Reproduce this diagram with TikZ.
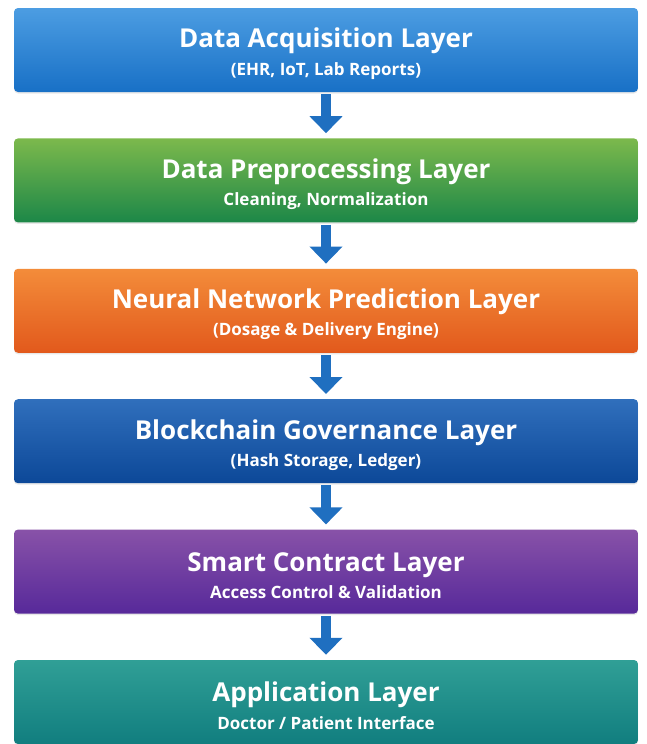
\documentclass[tikz,border=0pt]{standalone}
\usepackage{fontspec}
\setsansfont{Open Sans}
\usetikzlibrary{positioning,arrows.meta,shadows}

\definecolor{acqtop}{HTML}{4C9DE2}
\definecolor{acqbot}{HTML}{1870C6}
\definecolor{preptop}{HTML}{7CB94C}
\definecolor{prepbot}{HTML}{1C8748}
\definecolor{nntop}{HTML}{F38C3A}
\definecolor{nnbot}{HTML}{E2591C}
\definecolor{chaintop}{HTML}{306FBC}
\definecolor{chainbot}{HTML}{0C4898}
\definecolor{smarttop}{HTML}{8852A8}
\definecolor{smartbot}{HTML}{57299A}
\definecolor{apptop}{HTML}{309F96}
\definecolor{appbot}{HTML}{117E7F}
\definecolor{flowblue}{HTML}{1F6FC0}

\newcommand{\layertitle}[2]{{\fontsize{26}{28}\selectfont\rule{0pt}{27pt}#1}\\[7pt]{\fontsize{17}{19}\selectfont #2}}

\begin{document}
\begin{tikzpicture}[
	layer/.style 2 args = {
		rectangle, rounded corners=4pt, minimum width=624pt, minimum height=84pt,
		inner sep=0pt, align=center, text=white, font=\sffamily\bfseries,
		top color=#1, bottom color=#2,
		drop shadow={opacity=0.18, shadow xshift=0pt, shadow yshift=-1.5pt}
	},
	flow/.style = {
		draw=flowblue, line width=10pt,
		-{Triangle[width=32pt,length=17pt]},
		shorten <=2pt, shorten >=5pt
	}
]
	\useasboundingbox (0,0) rectangle (647pt,-744pt);

	\node[layer={acqtop}{acqbot}] (acq) at (326pt,-50pt)
		{\layertitle{Data Acquisition Layer}{(EHR, IoT, Lab Reports)}};
	\node[layer={preptop}{prepbot}, below=46pt of acq] (prep)
		{\layertitle{Data Preprocessing Layer}{Cleaning, Normalization}};
	\node[layer={nntop}{nnbot}, below=46pt of prep] (nn)
		{\layertitle{Neural Network Prediction Layer}{(Dosage \& Delivery Engine)}};
	\node[layer={chaintop}{chainbot}, below=46pt of nn] (chain)
		{\layertitle{Blockchain Governance Layer}{(Hash Storage, Ledger)}};
	\node[layer={smarttop}{smartbot}, below=46pt of chain] (smart)
		{\layertitle{Smart Contract Layer}{Access Control \& Validation}};
	\node[layer={apptop}{appbot}, below=46pt of smart] (app)
		{\layertitle{Application Layer}{Doctor / Patient Interface}};

	\draw[flow] (acq) -- (prep);
	\draw[flow] (prep) -- (nn);
	\draw[flow] (nn) -- (chain);
	\draw[flow] (chain) -- (smart);
	\draw[flow] (smart) -- (app);
\end{tikzpicture}
\end{document}
